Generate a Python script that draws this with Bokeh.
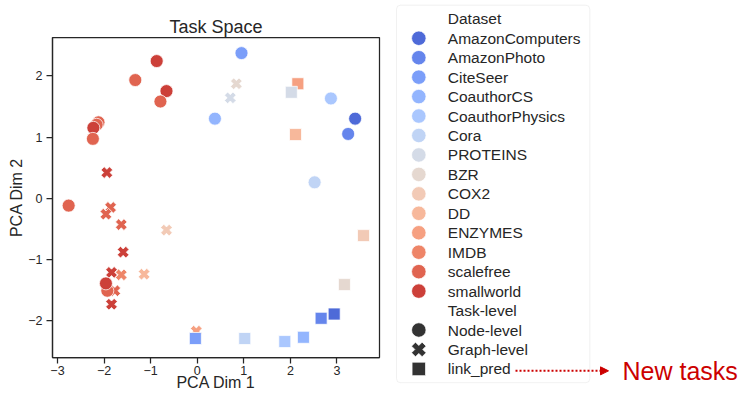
import numpy as np
from bokeh.plotting import figure
from bokeh.models import (ColumnDataSource, Range1d, FixedTicker, CustomJSTickFormatter,
                          BoxAnnotation, Arrow, NormalHead)
from bokeh.layouts import row
from bokeh.core.properties import value
from bokeh.embed import file_html
from bokeh.resources import INLINE

# ---------------- data ----------------
datasets = ["AmazonComputers", "AmazonPhoto", "CiteSeer", "CoauthorCS", "CoauthorPhysics",
            "Cora", "PROTEINS", "BZR", "COX2", "DD", "ENZYMES", "IMDB", "scalefree", "smallworld"]
palette = ["#4e6ad8", "#6585ec", "#7b9ef9", "#93b5fe", "#aac7fe", "#c0d4f5", "#d4dbe7",
           "#e5d8d0", "#f2cab6", "#f7b89b", "#f6a081", "#ee8568", "#e06450", "#cc4039"]
task_levels = ["Node-level", "Graph-level", "link_pred"]

# Graph-level tasks
graph_x = [0.84, 0.71, -1.94, -1.86, -1.96, -1.63, -0.66, -1.59, -1.84, -1.63, -1.14, -1.77, -1.84, -0.02]
graph_y = [1.87, 1.64, 0.42, -0.15, -0.26, -0.43, -0.52, -0.88, -1.21, -1.25, -1.24, -1.51, -1.73, -2.17]
graph_ds = ["BZR", "PROTEINS", "smallworld", "scalefree", "scalefree", "scalefree", "COX2",
            "smallworld", "smallworld", "IMDB", "DD", "scalefree", "smallworld", "ENZYMES"]

# Node-level tasks
node_x = [0.95, 0.38, 2.87, 3.39, 3.24, 2.52, -0.87, -1.33, -0.66, -0.79,
          -2.12, -2.16, -2.23, -2.24, -2.76, -1.93, -1.96]
node_y = [2.37, 1.30, 1.63, 1.30, 1.05, 0.26, 2.24, 1.93, 1.75, 1.58,
          1.24, 1.20, 1.15, 0.97, -0.12, -1.51, -1.39]
node_ds = ["CiteSeer", "CoauthorCS", "CoauthorPhysics", "AmazonComputers", "AmazonPhoto", "Cora",
           "smallworld", "scalefree", "smallworld", "scalefree",
           "scalefree", "scalefree", "smallworld", "scalefree", "scalefree", "scalefree", "smallworld"]

# Link prediction tasks (new tasks)
link_x = [2.16, 2.02, 2.11, 3.57, 3.16, 2.94, 2.66, 2.28, 1.88, 1.02, -0.04]
link_y = [1.87, 1.73, 1.04, -0.61, -1.41, -1.89, -1.96, -2.27, -2.34, -2.29, -2.29]
link_ds = ["ENZYMES", "PROTEINS", "DD", "COX2", "BZR", "AmazonComputers", "AmazonPhoto",
           "CoauthorCS", "CoauthorPhysics", "Cora", "CiteSeer"]

x_ticks = [-3, -2, -1, 0, 1, 2, 3]
y_ticks = [-2, -1, 0, 1, 2]

# ---------------- styling maps ----------------
FONT = "Liberation Sans"
TXT = "#262626"
color_of = dict(zip(datasets, palette))
marker_of = {"Node-level": "circle", "Graph-level": "plus", "link_pred": "square"}
angle_of = {"Node-level": 0.0, "Graph-level": np.pi / 4, "link_pred": 0.0}
size_of = {"Node-level": 13, "Graph-level": 12, "link_pred": 12}
legend_size_of = {"Node-level": 14.5, "Graph-level": 15, "link_pred": 13.5}

xs, ys, dss, tasks = [], [], [], []
for t, (gx, gy, gd) in zip(["Graph-level", "Node-level", "link_pred"],
                           [(graph_x, graph_y, graph_ds), (node_x, node_y, node_ds),
                            (link_x, link_y, link_ds)]):
    xs += gx; ys += gy; dss += gd; tasks += [t] * len(gx)

src = ColumnDataSource(dict(
    x=xs, y=ys, ds=dss, task=tasks,
    color=[color_of[d] for d in dss],
    marker=[marker_of[t] for t in tasks],
    angle=[angle_of[t] for t in tasks],
    size=[size_of[t] for t in tasks],
))

# ---------------- main plot ----------------
p = figure(width=390, height=393, x_range=Range1d(-3.107, 3.913), y_range=Range1d(-2.60, 2.625),
           output_backend="svg", toolbar_location=None, title="Task Space",
           min_border_left=52, min_border_right=11, min_border_top=37, min_border_bottom=36)
p.frame_align = False
p.scatter(x="x", y="y", source=src, marker="marker", angle="angle", size="size",
          fill_color="color", line_color="white", line_width=0.75)

p.title.align = "center"
p.title.text_font = FONT
p.title.text_font_size = "18px"
p.title.text_font_style = "normal"
p.title.text_color = TXT
p.title.standoff = 2

p.xgrid.visible = False
p.ygrid.visible = False
p.outline_line_color = TXT
p.outline_line_width = 1.25
p.background_fill_color = "white"
p.border_fill_color = "white"

fmt_code = "return tick < 0 ? '\\u2212' + Math.abs(tick) : String(tick);"
p.xaxis.ticker = FixedTicker(ticks=x_ticks)
p.yaxis.ticker = FixedTicker(ticks=y_ticks)
p.xaxis.axis_label = "PCA Dim 1"
p.yaxis.axis_label = "PCA Dim 2"
for ax in (p.xaxis, p.yaxis):
    ax.formatter = CustomJSTickFormatter(code=fmt_code)
    ax.axis_line_color = TXT
    ax.axis_line_width = 1.25
    ax.major_tick_line_color = TXT
    ax.major_tick_line_width = 1.25
    ax.major_tick_out = 6
    ax.major_tick_in = 0
    ax.minor_tick_line_color = None
    ax.major_label_text_font = FONT
    ax.major_label_text_font_size = "12.5px"
    ax.major_label_text_color = TXT
    ax.axis_label_text_font = FONT
    ax.axis_label_text_font_size = "16px"
    ax.axis_label_text_font_style = "normal"
    ax.axis_label_text_color = TXT
p.xaxis.major_label_standoff = 2
p.xaxis.axis_label_standoff = -4
p.yaxis.major_label_standoff = 4
p.yaxis.axis_label_standoff = 0

# ---------------- legend panel ----------------
rows_label = ["Dataset"] + datasets + ["Task-level"] + task_levels
n_rows = len(rows_label)
row_idx = list(range(n_rows))
row_h = 19.45
top_px = 18.3
leg = figure(width=352, height=393, output_backend="svg", toolbar_location=None,
             x_range=Range1d(0, 352),
             y_range=Range1d(start=(393 - top_px) / row_h, end=-top_px / row_h),
             min_border=0, x_axis_type=None, y_axis_type=None)
leg.frame_align = False
leg.xgrid.visible = False
leg.ygrid.visible = False
leg.outline_line_color = None
leg.background_fill_color = "white"
leg.border_fill_color = "white"

leg.add_layout(BoxAnnotation(left=6, right=199.3, top=(4.7 - top_px) / row_h,
                             bottom=(382.2 - top_px) / row_h, fill_color="white", fill_alpha=1,
                             line_color="#cfcfcf", line_width=1, border_radius=4,
                             level="underlay"))

ds_rows = [1 + i for i in range(len(datasets))]
leg.scatter(x=[28.3] * len(datasets), y=ds_rows, marker="circle", size=14.5,
            fill_color=palette, line_color="white", line_width=0.75)
t_rows = [len(datasets) + 2 + i for i in range(len(task_levels))]
leg.scatter(x=[28.3] * len(task_levels), y=t_rows,
            marker=[marker_of[t] for t in task_levels],
            angle=[angle_of[t] for t in task_levels],
            size=[legend_size_of[t] for t in task_levels],
            fill_color="#333333", line_color="white", line_width=0.75)
leg.text(x=[57.3] * n_rows, y=row_idx, text=rows_label, text_baseline="middle",
         text_font=value(FONT), text_font_size="15.5px", text_color=TXT)

# annotation: arrow to "New tasks"
arrow_row = t_rows[-1]
leg.add_layout(Arrow(x_start=125, y_start=arrow_row + 0.1, x_end=218, y_end=arrow_row + 0.1,
                     line_color="#cc0000", line_width=2, line_dash="2 2",
                     end=NormalHead(size=8, fill_color="#cc0000", line_color="#cc0000", line_width=1)))
leg.text(x=[232], y=[arrow_row + 0.1], text=["New tasks"], text_baseline="middle",
         text_font=value(FONT), text_font_size="25px", text_color="#cc0000")

layout = row(p, leg)
open("out.html", "w").write(file_html(layout, INLINE))
